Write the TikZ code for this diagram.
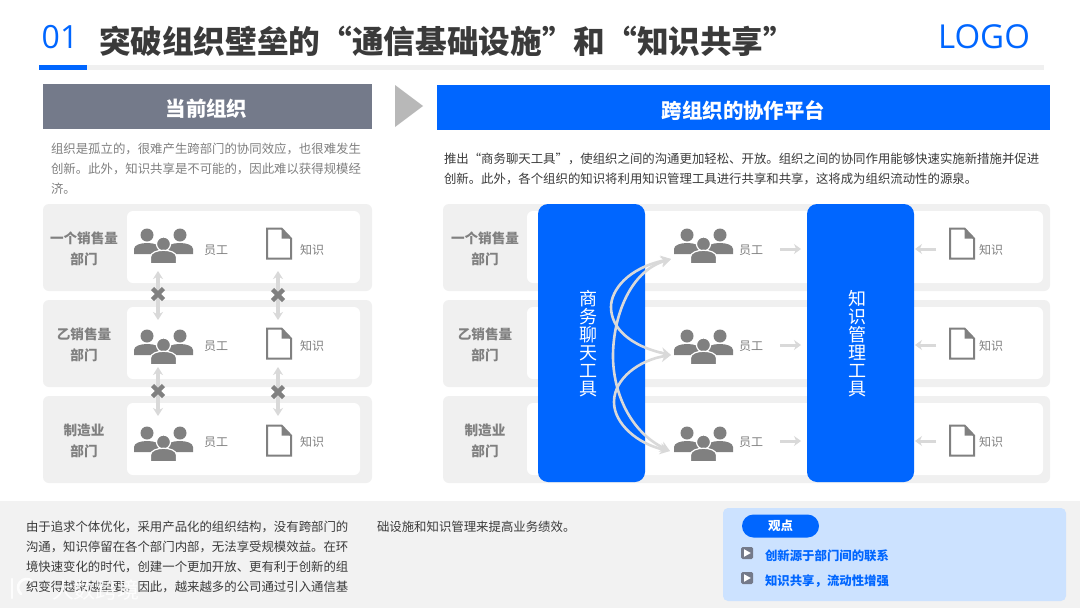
\documentclass[tikz,border=0pt]{standalone}
\usepackage{fontspec}
\usetikzlibrary{arrows.meta,calc}
\setmainfont{Noto Sans CJK SC}
\newfontfamily\latinf{Open Sans}
\definecolor{brandblue}{HTML}{0066FF}
\definecolor{headgray}{HTML}{747A8A}
\definecolor{rowgray}{HTML}{F0F0F0}
\definecolor{icongray}{HTML}{808080}
\definecolor{arrowgray}{HTML}{D9D9D9}
\definecolor{titledark}{HTML}{3A3A3A}
\definecolor{bandgray}{HTML}{F2F2F2}
\definecolor{notefill}{HTML}{CCE2FF}
\newcommand{\px}[2]{\fontsize{#1}{#2}\selectfont}
\tikzset{
  x=1pt,y=-1pt,
  txt/.style={inner sep=0pt,outer sep=0pt},
  bar/.style={fill=#1,draw=none},
  rowbox/.style={fill=rowgray,draw=none,rounded corners=6pt},
  innerbox/.style={fill=white,draw=none,rounded corners=6pt},
  toolbox/.style={fill=brandblue,draw=none,rounded corners=10pt},
  rowlabel/.style={txt,align=center,text=icongray,font=\px{13.6}{21}\bfseries},
  smalllabel/.style={txt,text=icongray,font=\px{12}{12}},
  para/.style={txt,anchor=north west,align=left,font=\px{12.4}{19.8}},
  toollabel/.style={txt,align=center,text=white,font=\px{18}{18}},
  dbl/.style={arrowgray,line width=3.4pt,{Stealth[length=8pt,width=10pt]}-{Stealth[length=8pt,width=10pt]}},
  sgl/.style={arrowgray,line width=3pt,-{Stealth[length=7pt,width=10pt]}},
  curve/.style={arrowgray,line width=2.6pt,{Stealth[length=10pt,width=11pt]}-{Stealth[length=10pt,width=11pt]}},
  notetext/.style={txt,anchor=west,text=brandblue,font=\px{12.4}{12.4}\bfseries},
  people/.pic={
    \fill[icongray] (-16.5,-14) circle (6.5);
    \fill[icongray] (16.5,-14) circle (6.5);
    \fill[icongray] (-29.5,5) -- (-29.5,0) .. controls (-29.5,-8) and (-3,-8) .. (-3,0) -- (-3,5) -- cycle;
    \fill[icongray] (29.5,5) -- (29.5,0) .. controls (29.5,-8) and (3,-8) .. (3,0) -- (3,5) -- cycle;
    \draw[white,line width=1.2pt,fill=icongray] (0,-5) circle (7);
    \draw[white,line width=1.2pt,fill=icongray] (-13,14.6) -- (-13,8) .. controls (-13,-1) and (13,-1) .. (13,8) -- (13,14.6) -- cycle;
  },
  docicon/.pic={
    \draw[icongray,line width=2pt,line join=miter,fill=white] (0,0) -- (14.5,0) -- (24,10) -- (24,30) -- (0,30) -- cycle;
    \fill[icongray] (14.5,0) -- (24,10) -- (14.5,10) -- cycle;
  },
  nomark/.pic={
    \draw[icongray,line width=4.4pt] (-5.5,-5.5) -- (5.5,5.5) (-5.5,5.5) -- (5.5,-5.5);
  },
  playicon/.pic={
    \fill[headgray,rounded corners=1.5pt] (-6,-6) rectangle (6,6);
    \fill[white] (-3,-3.8) -- (3.8,0) -- (-3,3.8) -- cycle;
  },
}
\begin{document}
\begin{tikzpicture}
\useasboundingbox (0,0) rectangle (1080,608);
\fill[white] (0,0) rectangle (1080,608);

% title
\node[txt,anchor=center,text=brandblue,font=\latinf\px{32}{32}] (num) at (60,37) {01};
\node[txt,anchor=west,text=titledark,font=\px{31.65}{31.65}\bfseries] (title) at (99,41) {突破组织壁垒的“通信基础设施”和“知识共享”};
\node[txt,anchor=center,text=brandblue,font=\latinf\px{33}{33}] (logo) at (984,37) {LOGO};
\fill[rowgray] (39,65) rectangle (1044,70);
\fill[brandblue] (39,65) rectangle (87,70);

% headers
\fill[headgray] (43,84) rectangle (372,129);
\node[txt,text=white,font=\px{20.4}{20.4}\bfseries] (lefthead) at (206.5,108.5) {当前组织};
\fill[black!28] (395,85) -- (423,106) -- (395,127) -- cycle;
\fill[brandblue] (437,85) rectangle (1050,130);
\node[txt,text=white,font=\px{20.4}{20.4}\bfseries] (righthead) at (743.5,110.5) {跨组织的协作平台};

% paragraphs
\node[para,text=icongray] (leftpara) at (51,143) {组织是孤立的，很难产生跨部门的协同效应，也很难发生\\创新。此外，知识共享是不可能的，因此难以获得规模经\\济。};
\node[para,text=titledark] (rightpara) at (444,153) {推出“商务聊天工具”，使组织之间的沟通更加轻松、开放。组织之间的协同作用能够快速实施新措施并促进\\创新。此外，各个组织的知识将利用知识管理工具进行共享和共享，这将成为组织流动性的源泉。};

% rows: left and right
\foreach \t in {204,300,396}{
  \fill[rowbox] (43,\t) rectangle (372,\t+87);
  \fill[innerbox] (127,\t+7) rectangle (360,\t+79);
  \fill[rowbox] (443,\t) rectangle (1050,\t+87);
  \fill[innerbox] (527,\t+7) rectangle (1043,\t+79);
}
\node[rowlabel] (la) at (84,249) {一个销售量\\部门};
\node[rowlabel] (lb) at (84,345) {乙销售量\\部门};
\node[rowlabel] (lc) at (84,441) {制造业\\部门};
\node[rowlabel] (ra) at (485,249) {一个销售量\\部门};
\node[rowlabel] (rb) at (485,345) {乙销售量\\部门};
\node[rowlabel] (rc) at (485,441) {制造业\\部门};

% left icons
\pic at (163.5,249) {people};
\pic at (163.5,350) {people};
\pic at (163.5,447) {people};
\pic at (267,228.5) {docicon};
\pic at (267,328.5) {docicon};
\pic at (267,425.5) {docicon};
\node[smalllabel] (e1) at (216,250) {员工};
\node[smalllabel] (e2) at (216,346) {员工};
\node[smalllabel] (e3) at (216,442) {员工};
\node[smalllabel] (k1) at (312,250) {知识};
\node[smalllabel] (k2) at (312,346) {知识};
\node[smalllabel] (k3) at (312,442) {知识};

% left blocked links
\coordinate (p1b) at (158,271);
\coordinate (p2t) at (158,320);
\coordinate (p2b) at (158,367);
\coordinate (p3t) at (158,416);
\coordinate (d1b) at (278,271);
\coordinate (d2t) at (278,320);
\coordinate (d2b) at (278,367);
\coordinate (d3t) at (278,416);
\draw[dbl] (p1b) -- (p2t);
\draw[dbl] (p2b) -- (p3t);
\draw[dbl] (d1b) -- (d2t);
\draw[dbl] (d2b) -- (d3t);
\pic at (158,294) {nomark};
\pic at (278,295) {nomark};
\pic at (158,391) {nomark};
\pic at (278,392) {nomark};

% right side tools
\node[toolbox,minimum width=107pt,minimum height=278pt,inner sep=0pt] (chat) at (591.5,343) {};
\node[toolbox,minimum width=107pt,minimum height=278pt,inner sep=0pt] (know) at (860.5,343) {};
\node[toollabel] (chatl) at (588.5,344) {商\\务\\聊\\天\\工\\具};
\node[toollabel] (knowl) at (857.5,344) {知\\识\\管\\理\\工\\具};

% right icons
\pic at (703.5,249) {people};
\pic at (703.5,350) {people};
\pic at (703.5,447) {people};
\pic at (950,228.5) {docicon};
\pic at (950,328.5) {docicon};
\pic at (950,425.5) {docicon};
\node[smalllabel] (e4) at (751,250) {员工};
\node[smalllabel] (e5) at (751,346) {员工};
\node[smalllabel] (e6) at (751,442) {员工};
\node[smalllabel] (k4) at (991,250) {知识};
\node[smalllabel] (k5) at (991,346) {知识};
\node[smalllabel] (k6) at (991,442) {知识};

% flows
\foreach \y [count=\i] in {249,345,441}{
  \coordinate (ef\i) at (780,\y);
  \coordinate (et\i) at (801,\y);
  \coordinate (kf\i) at (936,\y);
  \coordinate (kt\i) at (915,\y);
  \draw[sgl] (ef\i) -- (et\i);
  \draw[sgl] (kf\i) -- (kt\i);
}
\coordinate (tip1) at (671,259);
\coordinate (tip2) at (671,355);
\coordinate (tip3) at (670,451);
\draw[curve] (tip1) .. controls (628,268) and (611,290) .. (611,307) .. controls (611,328) and (630,346) .. (tip2);
\draw[curve] (tip1) .. controls (628,272) and (613,320) .. (613,356) .. controls (613,392) and (630,432) .. (tip3);
\draw[curve] (tip2) .. controls (640,360) and (614,378) .. (614,402) .. controls (614,424) and (638,444) .. (tip3);

% bottom band
\fill[bandgray] (0,501) rectangle (1080,608);
\node[para,text=titledark] (b1) at (26,521.5) {由于追求个体优化，采用产品化的组织结构，没有跨部门的\\沟通，知识停留在各个部门内部，无法享受规模效益。在环\\境快速变化的时代，创建一个更加开放、更有利于创新的组\\织变得越来越重要。因此，越来越多的公司通过引入通信基};
\node[para,text=titledark] (b2) at (377,521.5) {础设施和知识管理来提高业务绩效。};

% watermark
\node[txt,text=white,opacity=.85,font=\px{22}{22}] (wm) at (96,590) {大数跨境};
\draw[white,opacity=.85,line width=2.4pt,line cap=round] (12,579) -- (12,598);
\draw[white,opacity=.85,line width=2.6pt,line cap=round] (32,581) arc[start angle=-50,end angle=-230,radius=8.5];

% note
\fill[notefill,rounded corners=5pt] (723,508) rectangle (1066,601);
\node[fill=brandblue,rounded corners=11.5pt,minimum width=77pt,minimum height=23pt,inner sep=0pt,text=white,font=\px{12.4}{12.4}\bfseries] (pill) at (780.5,526) {观点};
\pic at (747,553) {playicon};
\pic at (747,578) {playicon};
\node[notetext] (n1) at (765,555.5) {创新源于部门间的联系};
\node[notetext] (n2) at (765,581.5) {知识共享，流动性增强};
\end{tikzpicture}
\end{document}
